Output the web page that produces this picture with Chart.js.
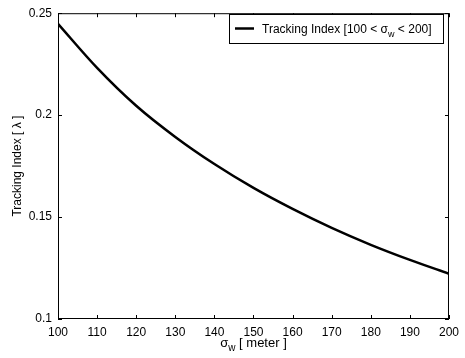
<!DOCTYPE html>
<html>
<head>
<meta charset="utf-8">
<script src="https://cdn.jsdelivr.net/npm/chart.js@4"></script>
<style>
  html, body { margin: 0; padding: 0; background: #fff; }
  #wrap { width: 465px; height: 358px; }
</style>
</head>
<body>
<div id="wrap"><canvas id="chart" width="465" height="358"></canvas></div>
<script>
// process noise std-dev (meter) and the resulting tracking index
const sigmaW = [100, 110, 120, 130, 140, 150, 160, 170, 180, 190, 200];
const trackingIndex = [0.2448, 0.2232, 0.2046, 0.1893, 0.1760, 0.1643, 0.1540, 0.1447, 0.1364, 0.1290, 0.1222];
const xTicks = [100, 110, 120, 130, 140, 150, 160, 170, 180, 190, 200];
const yTicks = [0.1, 0.15, 0.2, 0.25];
const legendText = ['Tracking Index [100 < \u03c3', 'w', ' < 200]'];

const FONT = 'Liberation Sans, Arial, sans-serif';

// box, inward ticks, axis titles and legend drawn the matlab way
const matlabFrame = {
    id: 'matlabFrame',
    afterDraw(chart) {
        const ctx = chart.ctx;
        const a = chart.chartArea;
        const xs = chart.scales.x, ys = chart.scales.y;
        ctx.save();
        ctx.strokeStyle = '#000';
        ctx.lineWidth = 1;
        ctx.strokeRect(a.left + 0.5, a.top + 0.5, a.right - a.left - 1, a.bottom - a.top - 1);

        ctx.beginPath();
        xTicks.forEach(v => {
            const px = Math.round(xs.getPixelForValue(v)) + 0.5;
            ctx.moveTo(px, a.bottom); ctx.lineTo(px, a.bottom - 4);
            ctx.moveTo(px, a.top); ctx.lineTo(px, a.top + 4);
        });
        yTicks.forEach(v => {
            const py = Math.round(ys.getPixelForValue(v)) + 0.5;
            ctx.moveTo(a.left, py); ctx.lineTo(a.left + 4, py);
            ctx.moveTo(a.right, py); ctx.lineTo(a.right - 4, py);
        });
        ctx.stroke();

        ctx.fillStyle = '#000';
        // x title: sigma_w [ meter ]
        const cx = (a.left + a.right) / 2;
        const s1 = '\u03c3', s3 = ' [ meter ]';
        ctx.font = '10px ' + FONT;
        const wW = ctx.measureText('w').width;
        ctx.font = '13px ' + FONT;
        const total = ctx.measureText(s1).width + wW + ctx.measureText(s3).width;
        let x0 = cx - total / 2;
        ctx.textBaseline = 'alphabetic';
        ctx.textAlign = 'left';
        ctx.fillText(s1, x0, 347);
        x0 += ctx.measureText(s1).width;
        ctx.font = '10px ' + FONT;
        ctx.fillText('w', x0, 351);
        x0 += wW;
        ctx.font = '13px ' + FONT;
        ctx.fillText(s3, x0, 347);

        // y title
        ctx.save();
        ctx.translate(21, (a.top + a.bottom) / 2);
        ctx.rotate(-Math.PI / 2);
        ctx.textAlign = 'center';
        ctx.font = '12px ' + FONT;
        ctx.fillText('Tracking Index [ \u03bb ]', 0, 0);
        ctx.restore();

        // legend
        const lx = 229, ly = 14, lw = 214, lh = 29;
        ctx.fillStyle = '#fff';
        ctx.fillRect(lx, ly, lw, lh);
        ctx.strokeRect(lx + 0.5, ly + 0.5, lw, lh);
        ctx.lineWidth = 2.5;
        ctx.beginPath();
        ctx.moveTo(235, ly + 14.5); ctx.lineTo(254, ly + 14.5);
        ctx.stroke();
        ctx.fillStyle = '#000';
        let tx = 262;
        ctx.font = '12px ' + FONT;
        ctx.fillText(legendText[0], tx, ly + 19);
        tx += ctx.measureText(legendText[0]).width;
        ctx.font = '9px ' + FONT;
        ctx.fillText(legendText[1], tx, ly + 23);
        tx += ctx.measureText(legendText[1]).width;
        ctx.font = '12px ' + FONT;
        ctx.fillText(legendText[2], tx, ly + 19);
        ctx.restore();
    }
};

new Chart(document.getElementById('chart'), {
    type: 'line',
    data: {
        datasets: [{
            label: 'Tracking Index',
            data: sigmaW.map((s, i) => ({ x: s, y: trackingIndex[i] })),
            borderColor: '#000',
            borderWidth: 2.5,
            pointRadius: 0,
            cubicInterpolationMode: 'monotone',
            fill: false
        }]
    },
    options: {
        responsive: false,
        animation: false,
        layout: { padding: { left: 0, right: 16, top: 11, bottom: 0 } },
        plugins: { legend: { display: false }, tooltip: { enabled: false } },
        scales: {
            x: {
                type: 'linear',
                min: 100, max: 200,
                afterBuildTicks: s => { s.ticks = xTicks.map(v => ({ value: v })); },
                afterFit: s => { s.height = 39; },
                grid: { display: false, drawTicks: false },
                border: { display: false },
                ticks: { color: '#000', padding: 6, maxRotation: 0, font: { family: FONT, size: 12 } }
            },
            y: {
                min: 0.1, max: 0.25,
                afterBuildTicks: s => { s.ticks = yTicks.map(v => ({ value: v })); },
                afterFit: s => { s.width = 58; },
                grid: { display: false, drawTicks: false },
                border: { display: false },
                ticks: {
                    color: '#000', padding: 6,
                    font: { family: FONT, size: 12 },
                    callback: v => String(Math.round(v * 100) / 100)
                }
            }
        }
    },
    plugins: [matlabFrame]
});
</script>
</body>
</html>
